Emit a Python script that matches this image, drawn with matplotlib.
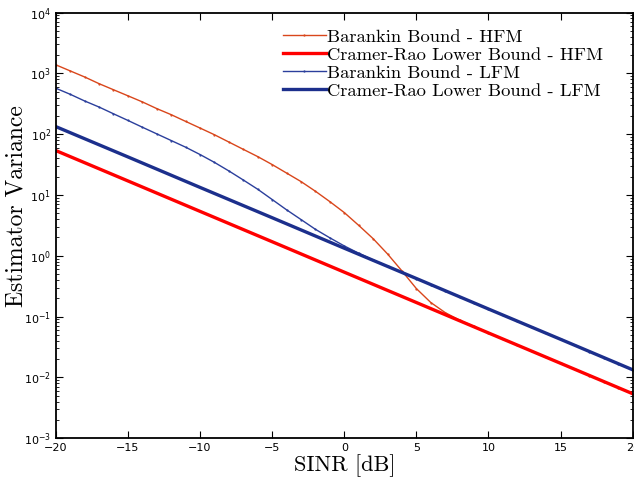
import numpy as np
import matplotlib
matplotlib.use("Agg")
import matplotlib.pyplot as plt

# SINR axis in dB
sinr_fine = np.arange(-20, 21)          # 1 dB grid used for the Barankin curves
sinr_coarse = np.arange(-20, 21, 5)     # 5 dB grid used for the straight CRLB lines

# values (estimator variance)
barankin_hfm = [1380, 1096, 871, 676, 537, 427, 339, 263, 209, 162,
                126, 97.7, 74.1, 56.2, 42.7, 31.6, 22.9, 16.6, 11.5, 7.76,
                5.13, 3.16, 1.91, 1.07, 0.562, 0.288, 0.170, 0.116, 0.087, 0.0686,
                0.0540, 0.0427, 0.0339, 0.0269, 0.0214, 0.0170, 0.0135, 0.0107, 0.0085, 0.0068,
                0.00537]
crlb_hfm = [53.7, 17.0, 5.37, 1.70, 0.537, 0.170, 0.0537, 0.0170, 0.00537]

barankin_lfm = [569, 452, 351, 279, 216, 168, 130, 101, 78.5, 61.0,
                46.2, 34.3, 24.8, 17.6, 12.4, 8.41, 5.69, 3.94, 2.72, 1.97,
                1.45, 1.10, 0.851, 0.668, 0.531, 0.422, 0.335, 0.266, 0.211, 0.168,
                0.133, 0.106, 0.0841, 0.0668, 0.0531, 0.0422, 0.0335, 0.0266, 0.0211, 0.0168,
                0.0133]
crlb_lfm = [133, 42.2, 13.3, 4.22, 1.33, 0.422, 0.133, 0.0422, 0.0133]

fig = plt.figure(figsize=(6.34, 4.82), dpi=100)
ax = fig.add_axes([0.088, 0.091, 0.910, 0.883])

ax.semilogy(sinr_fine, barankin_hfm, color='#d9461b', lw=1.0, marker='.', ms=1.2,
            label='Barankin Bound - HFM')
ax.semilogy(sinr_coarse, crlb_hfm, color='#ff0000', lw=2.4,
            label='Cramer-Rao Lower Bound - HFM')
ax.semilogy(sinr_fine, barankin_lfm, color='#2b3f9c', lw=1.0, marker='.', ms=1.2,
            label='Barankin Bound - LFM')
ax.semilogy(sinr_coarse, crlb_lfm, color='#1c2f8c', lw=2.4,
            label='Cramer-Rao Lower Bound - LFM')

ax.set_xlim(-20, 20)
ax.set_ylim(1e-3, 1e4)
ax.set_xticks(np.arange(-20, 21, 5))
ax.tick_params(which='both', direction='in', top=True, right=True, labelsize=8)
ax.tick_params(which='major', length=5)
ax.tick_params(which='minor', length=2.5)
for s in ax.spines.values():
    s.set_linewidth(1.3)

ax.set_xlabel('SINR [dB]', family='cmr10', fontsize=16, labelpad=1)
ax.set_ylabel('Estimator Variance', family='cmr10', fontsize=17)
ax.yaxis.set_label_coords(-0.049, 0.545)

leg = ax.legend(loc='upper right', bbox_to_anchor=(0.972, 0.992), frameon=False,
                prop={'family': 'cmr10', 'size': 13.4}, handlelength=2.3,
                handletextpad=0.1, labelspacing=0.1, borderaxespad=0.3)

fig.savefig('out.png', dpi=100)
